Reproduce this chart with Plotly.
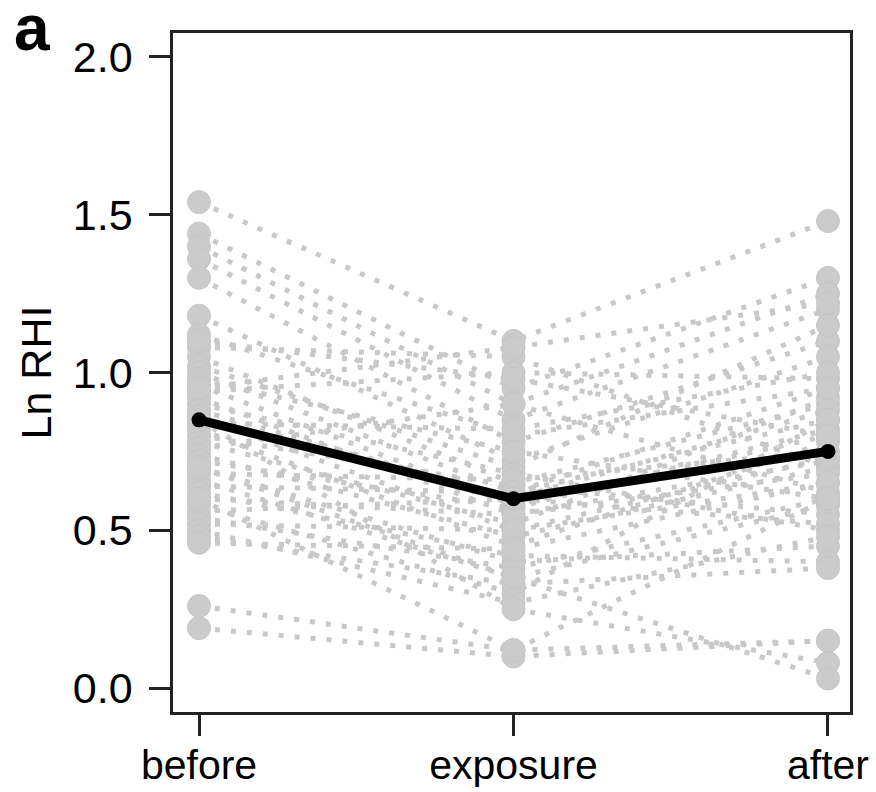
import plotly.graph_objects as go

categories = ["before", "exposure", "after"]

before = [1.54, 1.44, 1.40, 1.36, 1.30, 1.18, 1.12, 1.08, 1.05, 1.02, 1.00, 0.98, 0.96, 0.94, 0.92,
          0.90, 0.88, 0.86, 0.84, 0.82, 0.80, 0.78, 0.76, 0.74, 0.72, 0.70, 0.68, 0.66, 0.64, 0.62,
          0.60, 0.58, 0.56, 0.54, 0.52, 0.50, 0.48, 0.46, 0.26, 0.19, 0.85, 0.70, 0.95, 1.10, 0.60]
exposure = [1.10, 0.95, 0.90, 0.85, 0.78, 0.72, 0.80, 1.05, 0.65, 0.70, 0.62, 0.75, 0.58, 1.00, 0.55,
            0.68, 0.60, 0.50, 0.82, 0.45, 0.64, 0.52, 0.90, 0.48, 0.57, 0.40, 0.66, 0.35, 0.62, 0.42,
            0.55, 0.30, 0.60, 0.38, 0.50, 0.27, 0.33, 0.44, 0.12, 0.10, 0.25, 0.35, 1.08, 0.98, 0.12]
after = [1.48, 1.30, 1.25, 1.20, 1.10, 1.05, 0.95, 0.70, 0.90, 1.15, 0.85, 0.60, 0.80, 0.98, 0.72,
         0.50, 0.88, 0.65, 1.00, 0.78, 0.55, 0.92, 0.62, 0.70, 0.82, 0.45, 0.75, 0.58, 0.95, 0.40,
         0.68, 0.85, 0.52, 0.60, 0.73, 0.48, 0.38, 0.65, 0.60, 0.15, 0.08, 0.03, 1.22, 0.80, 0.15]
mean_values = [0.85, 0.60, 0.75]

tick_vals = [0.0, 0.5, 1.0, 1.5, 2.0]
tick_text = ["0.0", "0.5", "1.0", "1.5", "2.0"]

grey = "#c8c8c8"
xs = [0, 1, 2]
FONT = "Liberation Sans, Arial, Helvetica, sans-serif"

fig = go.Figure()

# subject lines
lx, ly = [], []
for b, e, a in zip(before, exposure, after):
    lx += xs + [None]
    ly += [b, e, a, None]
fig.add_trace(go.Scatter(x=lx, y=ly, mode="lines",
                         line=dict(color=grey, width=5, dash="5px,11px"),
                         hoverinfo="skip", showlegend=False))

# subject markers
for i, series in enumerate([before, exposure, after]):
    fig.add_trace(go.Scatter(x=[xs[i]] * len(series), y=series, mode="markers",
                             marker=dict(size=23, color="#cbcbcb",
                                         line=dict(color="#c6c6c6", width=1)),
                             showlegend=False))

# mean line
fig.add_trace(go.Scatter(x=xs, y=mean_values, mode="lines+markers",
                         line=dict(color="black", width=9),
                         marker=dict(size=15, color="black"),
                         showlegend=False))

fig.update_layout(
    width=876, height=792,
    margin=dict(l=173, r=26, t=33, b=80),
    paper_bgcolor="white", plot_bgcolor="white",
    font=dict(family=FONT, color="black", size=43),
    xaxis=dict(range=[-0.0827, 2.07], tickmode="array", tickvals=xs, ticktext=categories,
               showgrid=False, zeroline=False, showline=True, mirror=True,
               linecolor="#222", linewidth=2.5, ticks="outside", ticklen=21,
               tickwidth=2.5, tickcolor="#222", tickfont=dict(size=41, family=FONT),
               ticklabelstandoff=-6, automargin=False),
    yaxis=dict(range=[-0.076, 2.076], tickmode="array", tickvals=tick_vals, ticktext=tick_text,
               showgrid=False, zeroline=False, showline=True, mirror=True,
               linecolor="#222", linewidth=2.5, ticks="outside", ticklen=21,
               tickwidth=2.5, tickcolor="#222", tickfont=dict(size=43, family=FONT),
               ticklabelstandoff=8, automargin=False,
               title=dict(text="Ln RHI", font=dict(size=43, family=FONT), standoff=8)),
)
fig.add_annotation(text="<b>a</b>", xref="paper", yref="paper", x=-0.238, y=0.952,
                   xanchor="left", yanchor="bottom", showarrow=False,
                   font=dict(size=64, color="black", family=FONT))

fig.write_html("out.html")
